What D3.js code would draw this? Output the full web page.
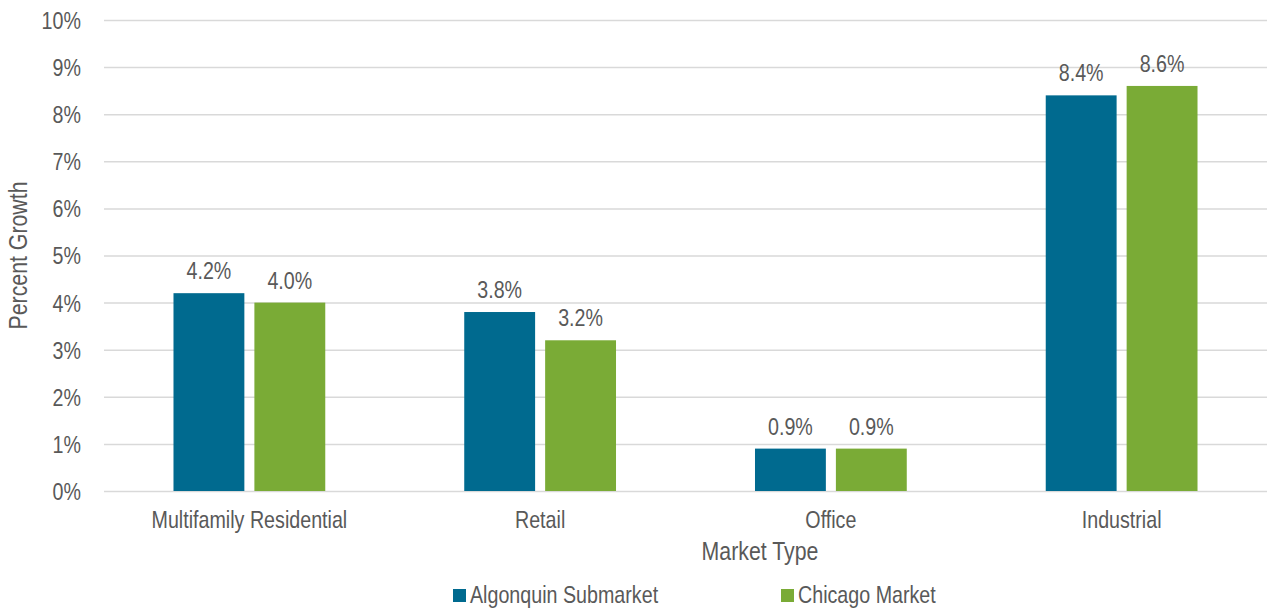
<!DOCTYPE html>
<html>
<head>
<meta charset="utf-8">
<script src="https://cdn.jsdelivr.net/npm/d3@7"></script>
<style>
  html, body { margin: 0; padding: 0; background: #fff; }
  svg text { font-family: "Liberation Sans", Arial, sans-serif; fill: #595959; }
</style>
</head>
<body>
<svg id="chart" width="1267" height="612"></svg>
<script>
// Growth by market type
const categories = ["Multifamily Residential", "Retail", "Office", "Industrial"];
const seriesNames = ["Algonquin Submarket", "Chicago Market"];
const algonquin = [4.2, 3.8, 0.9, 8.4];
const chicago = [4.0, 3.2, 0.9, 8.6];
const yTicks = [0, 1, 2, 3, 4, 5, 6, 7, 8, 9, 10];
const colors = ["#006a8f", "#7aab36"];

const series = [algonquin, chicago];
const svg = d3.select("#chart");

const plotLeft = 104, plotRight = 1267, plotTop = 20, plotBottom = 491;
const NARROW = 0.82; // horizontal squeeze for a narrow typeface look

// Move a text's x/y into a transform and squeeze it horizontally
function condense(sel) {
  sel.each(function () {
    const t = d3.select(this);
    const tx = +t.attr("x") || 0, ty = +t.attr("y") || 0;
    const prev = t.attr("transform") || "";
    t.attr("x", 0).attr("y", 0)
      .attr("transform", `${prev} translate(${tx},${ty}) scale(${NARROW},1)`);
  });
}

const y = d3.scaleLinear().domain([0, 10]).range([plotBottom, plotTop]);
const x0 = d3.scaleBand().domain(categories).range([plotLeft, plotRight])
  .paddingInner(0.478).paddingOuter(0.239);
const x1 = d3.scaleBand().domain(seriesNames).range([0, x0.bandwidth()])
  .paddingInner(0.124).paddingOuter(0);

// Horizontal gridlines with percentage tick labels
const yAxis = d3.axisLeft(y).tickValues(yTicks).tickFormat(d => d + "%")
  .tickSize(-(plotRight - plotLeft)).tickPadding(23);
const gy = svg.append("g").attr("transform", `translate(${plotLeft},0)`).call(yAxis);
gy.select(".domain").remove();
gy.selectAll(".tick line").attr("stroke", "#d9d9d9").attr("stroke-width", 1.5);
gy.selectAll(".tick text").attr("font-size", 24).attr("fill", "#595959")
  .attr("font-family", null).attr("dy", "0.35em").call(condense);

// Category labels along the bottom
const xAxis = d3.axisBottom(x0).tickSize(0).tickPadding(0);
const gx = svg.append("g").attr("transform", `translate(0,${plotBottom})`).call(xAxis);
gx.select(".domain").remove();
gx.selectAll(".tick text").attr("font-size", 24).attr("fill", "#595959")
  .attr("dy", null).attr("y", 37).call(condense);
gx.attr("font-family", null);
gy.attr("font-family", null);

// Grouped bars
const groups = svg.append("g").selectAll("g")
  .data(categories)
  .join("g")
  .attr("transform", c => `translate(${x0(c)},0)`);

groups.selectAll("rect")
  .data((c, i) => seriesNames.map((s, j) => ({ s, v: series[j][i], j })))
  .join("rect")
  .attr("x", d => x1(d.s))
  .attr("y", d => y(d.v))
  .attr("width", x1.bandwidth())
  .attr("height", d => y(0) - y(d.v))
  .attr("fill", d => colors[d.j]);

// Value labels above each bar
groups.selectAll("text.value")
  .data((c, i) => seriesNames.map((s, j) => ({ s, v: series[j][i], j })))
  .join("text")
  .attr("class", "value")
  .attr("x", d => x1(d.s) + x1.bandwidth() / 2)
  .attr("y", d => y(d.v) - 14)
  .attr("text-anchor", "middle")
  .attr("font-size", 24)
  .text(d => d.v.toFixed(1) + "%")
  .call(condense);

// Axis titles
svg.append("text")
  .attr("x", 760).attr("y", 560)
  .attr("text-anchor", "middle")
  .attr("font-size", 26)
  .text("Market Type")
  .call(condense);

svg.append("text")
  .attr("transform", `translate(27,${(plotTop + plotBottom) / 2}) rotate(-90) scale(${NARROW},1)`)
  .attr("text-anchor", "middle")
  .attr("font-size", 26)
  .text("Percent Growth");

// Legend
const legendX = [453, 781];
const legend = svg.append("g").selectAll("g")
  .data(seriesNames)
  .join("g")
  .attr("transform", (d, i) => `translate(${legendX[i]},589)`);
legend.append("rect").attr("width", 13).attr("height", 13)
  .attr("fill", (d, i) => colors[i]);
legend.append("text").attr("x", 17).attr("y", 14)
  .attr("font-size", 24)
  .text(d => d)
  .call(condense);
</script>
</body>
</html>
